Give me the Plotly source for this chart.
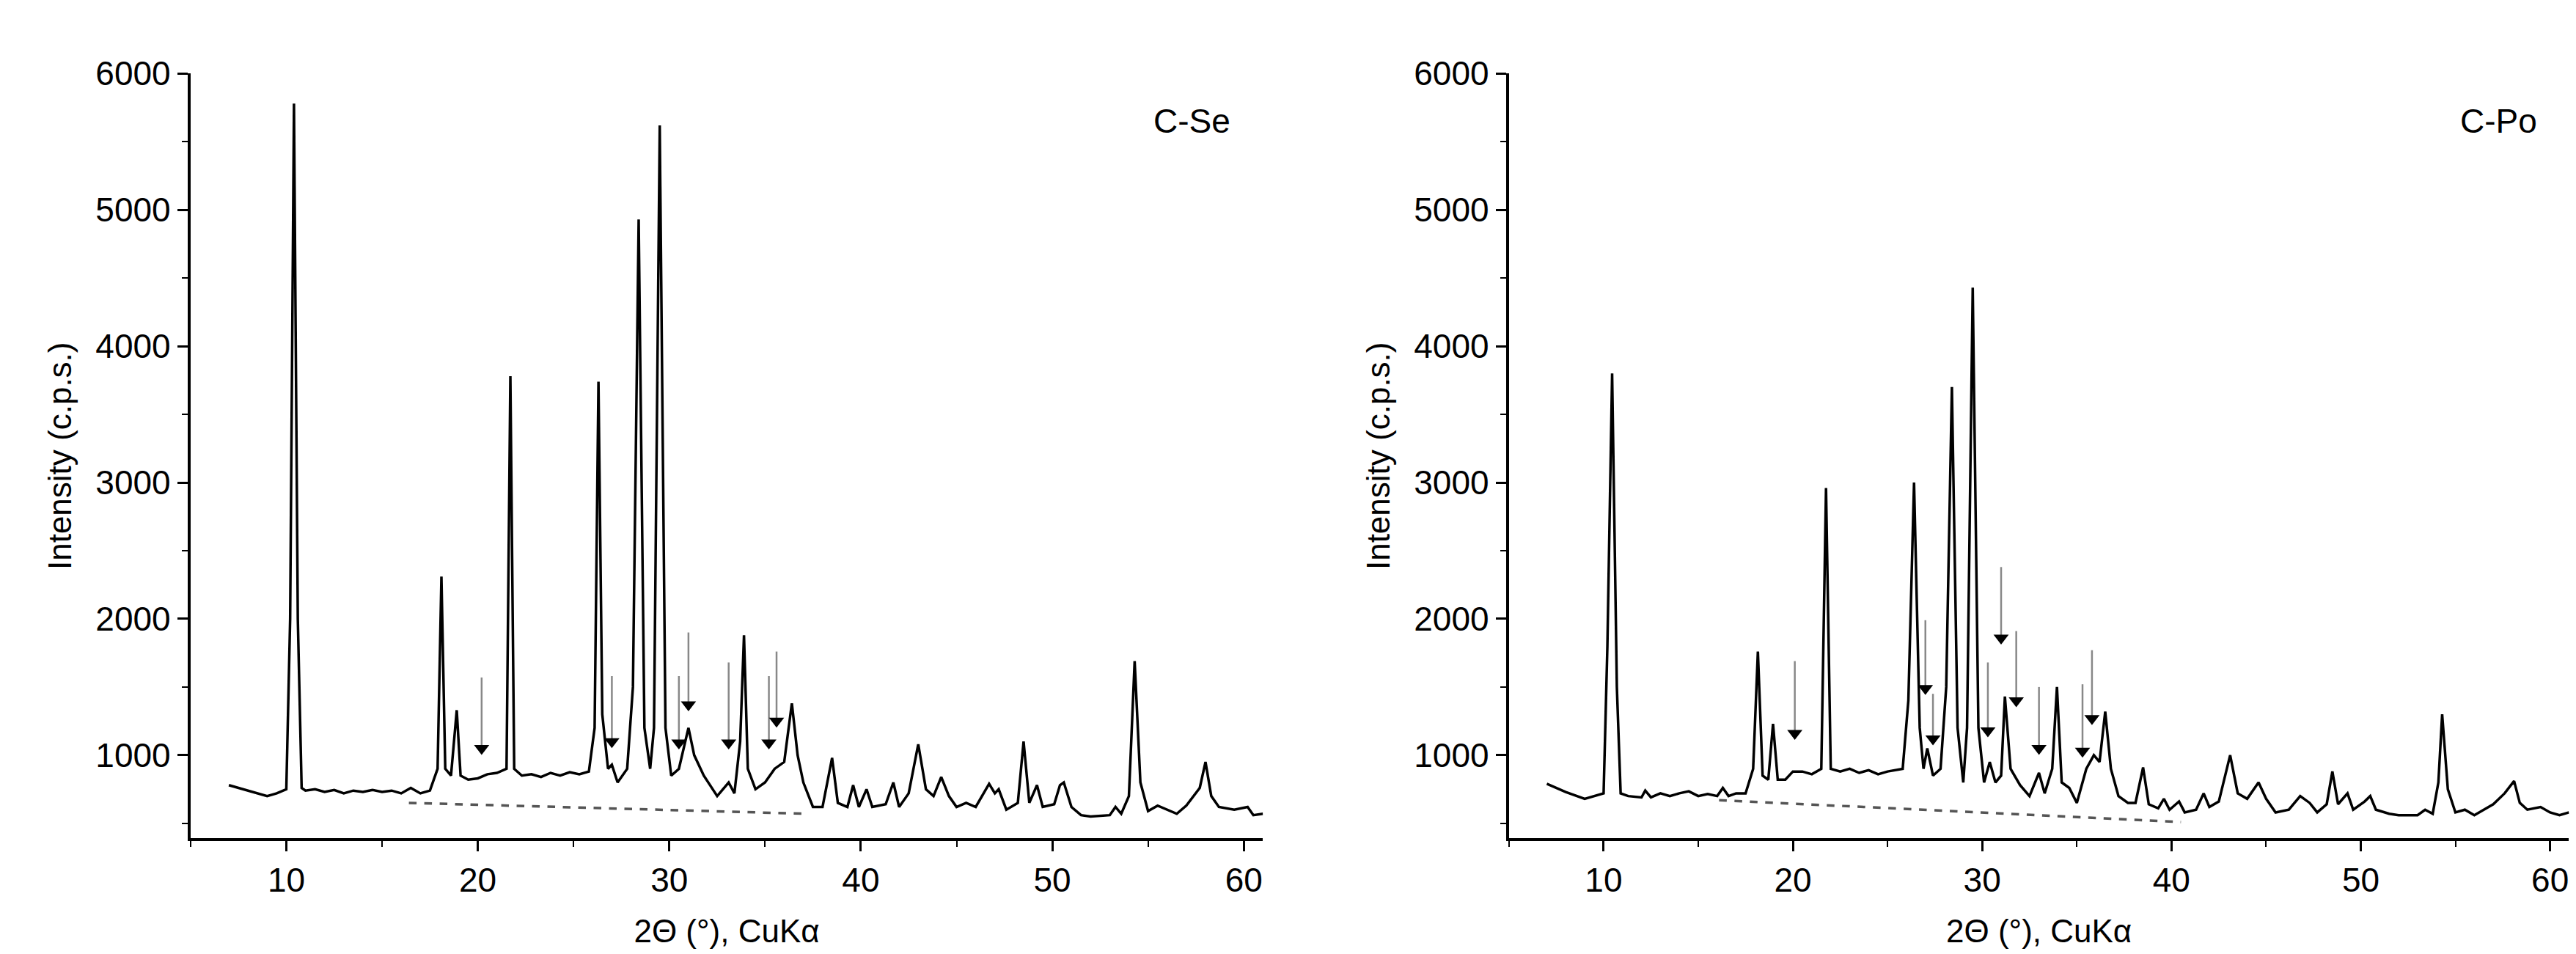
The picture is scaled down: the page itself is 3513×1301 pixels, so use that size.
import plotly.graph_objects as go

se_x = [7,8,9,9.5,10,10.2,10.4,10.6,10.8,11,11.5,12,12.5,13,13.5,14,14.5,15,15.5,16,16.5,17,17.5,17.9,18.1,18.3,18.6,18.9,19.1,19.5,20,20.5,21,21.5,21.7,21.9,22.3,22.8,23.3,23.8,24.3,24.8,25.3,25.8,26.1,26.3,26.5,26.8,27,27.3,27.8,28.1,28.4,28.7,29,29.2,29.5,29.8,30.1,30.5,31,31.3,31.8,32.5,33.1,33.4,33.7,33.9,34.1,34.5,35,35.5,36,36.4,36.7,37,37.5,38,38.5,38.8,39.3,39.6,39.9,40.3,40.6,41.3,41.7,42,42.5,43,43.4,43.8,44.2,44.6,45,45.5,46,46.7,47,47.2,47.6,48.2,48.5,48.8,49.2,49.5,50.1,50.4,50.6,51,51.5,52,53,53.3,53.6,54,54.3,54.6,55,55.5,56,56.5,57,57.7,58,58.3,58.7,59.5,60.2,60.5,61]
se_y = [780,740,700,720,750,2000,5780,2000,760,740,750,730,745,720,740,730,745,730,740,720,760,720,740,900,2310,900,850,1330,850,820,830,860,870,900,3780,900,850,860,840,870,850,875,860,880,1200,3740,1300,900,930,800,900,1500,4930,1200,900,1200,5620,1200,850,900,1200,1000,850,700,800,720,1100,1880,900,750,800,900,950,1380,1000,800,620,620,980,650,620,780,620,750,620,640,800,620,720,1080,750,700,840,700,620,650,620,790,720,750,600,650,1100,650,780,620,640,780,800,620,560,550,560,620,570,700,1690,800,590,630,600,570,630,760,950,700,620,600,620,560,570]

po_x = [7,8,9,9.5,10,10.2,10.45,10.7,10.9,11.3,12,12.2,12.5,13,13.5,14,14.5,15,15.5,16,16.3,16.6,17,17.5,17.9,18.15,18.4,18.7,18.95,19.2,19.6,20,20.5,21,21.5,21.75,22,22.5,23,23.5,24,24.5,25,25.8,26.1,26.4,26.7,26.9,27.1,27.4,27.8,28.1,28.4,28.7,29,29.2,29.5,29.8,30.1,30.4,30.7,31,31.2,31.5,32,32.5,33,33.3,33.7,33.95,34.2,34.6,35,35.5,35.9,36.2,36.5,36.8,37.2,37.7,38.1,38.5,38.8,39.3,39.6,39.9,40.4,40.7,41.3,41.7,42,42.5,43.1,43.5,44,44.6,45,45.5,46.2,46.8,47.3,47.7,48.2,48.5,48.8,49.3,49.6,50.2,50.5,50.8,51.5,52,53,53.4,53.8,54.1,54.3,54.6,55,55.5,56,56.5,57,57.6,58.1,58.4,58.8,59.5,60,60.5,61]
po_y = [790,730,680,700,720,1800,3800,1500,720,700,690,740,690,720,700,720,735,700,715,700,760,700,720,720,900,1760,850,820,1230,820,820,880,880,860,900,2960,900,880,900,870,890,860,880,900,1400,3000,1200,900,1050,850,900,1500,3700,1200,800,1200,4430,1200,800,950,800,850,1430,900,780,700,870,720,900,1500,800,760,650,900,1000,950,1320,900,700,650,650,910,640,610,680,600,660,580,600,720,620,660,1000,720,680,800,680,580,600,700,650,580,640,880,640,720,600,660,700,600,570,560,560,600,570,800,1300,750,580,600,560,600,640,720,810,650,600,620,580,560,580]

se_base_x = [16.4, 37.2]
se_base_y = [650, 570]
po_base_x = [16.1, 40.5]
po_base_y = [670, 510]

se_arrow_x = [20.2, 27.0, 30.5, 31.0, 33.1, 35.2, 35.6]
se_arrow_top = [1570, 1580, 1580, 1900, 1680, 1580, 1760]
se_arrow_tip = [990, 1040, 1030, 1310, 1030, 1030, 1190]
po_arrow_x = [20.1, 27.0, 27.4, 30.3, 31.0, 31.8, 33.0, 35.3, 35.8]
po_arrow_top = [1690, 1990, 1450, 1680, 2380, 1910, 1500, 1520, 1770]
po_arrow_tip = [1100, 1430, 1060, 1120, 1800, 1340, 990, 970, 1210]

panels = [("C-Se", se_x, se_y, se_base_x, se_base_y, se_arrow_x, se_arrow_top, se_arrow_tip, ""),
          ("C-Po", po_x, po_y, po_base_x, po_base_y, po_arrow_x, po_arrow_top, po_arrow_tip, "2")]

fig = go.Figure()
font = "Liberation Sans, Arial, sans-serif"
for name, x, y, bx, by, ax, atop, atip, s in panels:
    xa, ya = "x" + s, "y" + s
    fig.add_trace(go.Scatter(x=x, y=y, mode="lines", line=dict(color="black", width=3.5), xaxis=xa, yaxis=ya, showlegend=False))
    fig.add_trace(go.Scatter(x=bx, y=by, mode="lines", line=dict(color="#555555", width=3.5, dash="dash"), xaxis=xa, yaxis=ya, showlegend=False))
    sx, sy = [], []
    for a, t, p in zip(ax, atop, atip):
        sx += [a, a, None]
        sy += [t, p + 60, None]
    fig.add_trace(go.Scatter(x=sx, y=sy, mode="lines", line=dict(color="#888888", width=2.5), xaxis=xa, yaxis=ya, showlegend=False))
    fig.add_trace(go.Scatter(x=ax, y=[p + 60 for p in atip], mode="markers", marker=dict(symbol="triangle-down", size=18, color="black"), xaxis=xa, yaxis=ya, showlegend=False))
    fig.add_annotation(x=57.3, y=5650, xref=xa, yref=ya, text=name, showarrow=False, font=dict(size=46, color="black", family=font))

axis_common = dict(showgrid=False, zeroline=False, showline=True, linecolor="black", linewidth=4,
                   ticks="outside", ticklen=14, tickwidth=3, tickcolor="black",
                   tickfont=dict(size=46, color="black", family=font),
                   minor=dict(ticks="outside", ticklen=8, tickwidth=2, tickcolor="black"))
xcommon = dict(axis_common, range=[5, 61], dtick=10, tick0=0, minor_dtick=5,
               title=dict(text="2Θ (°), CuKα", font=dict(size=44, color="black", family=font), standoff=30))
ycommon = dict(axis_common, range=[390, 6000], dtick=1000, tick0=0, minor_dtick=500,
               title=dict(text="Intensity (c.p.s.)", font=dict(size=44, color="black", family=font), standoff=20))

fig.update_layout(
    width=3513, height=1301, plot_bgcolor="white", paper_bgcolor="white",
    margin=dict(l=0, r=0, t=0, b=0),
    xaxis=dict(xcommon, domain=[0.0717, 0.488], anchor="y"),
    yaxis=dict(ycommon, domain=[0.13, 0.948], anchor="x"),
    xaxis2=dict(xcommon, domain=[0.5835, 0.995], anchor="y2"),
    yaxis2=dict(ycommon, domain=[0.13, 0.948], anchor="x2"),
)
fig.write_html("out.html")
